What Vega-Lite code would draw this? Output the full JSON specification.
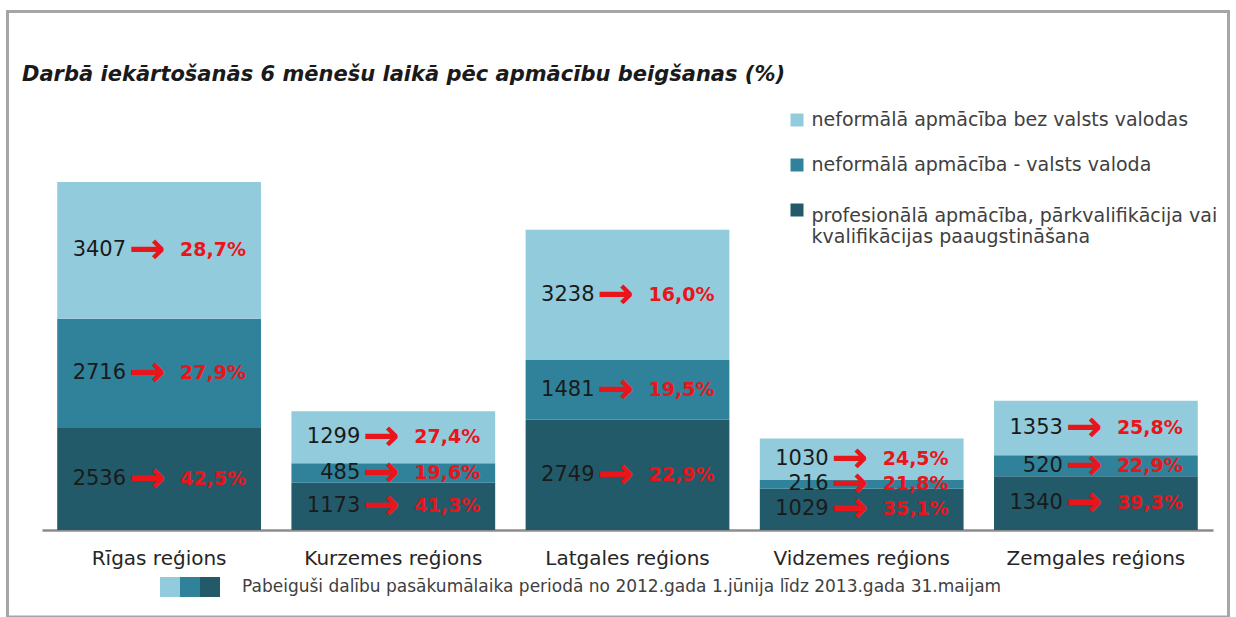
{
  "$schema": "https://vega.github.io/schema/vega-lite/v6.json",
  "width": 1221,
  "height": 605.5,
  "autosize": {"type": "none"},
  "padding": {"left": 7.5, "top": 11.5, "right": 7.5, "bottom": 0},
  "background": "white",
  "config": {
    "view": {"stroke": "#a6a6a6", "strokeWidth": 3},
    "locale": {"number": {"decimal": ",", "thousands": " ", "grouping": [3], "currency": ["", " €"]}}
  },
  "title": {
    "text": "Darbā iekārtošanās 6 mēnešu laikā pēc apmācību beigšanas (%)",
    "anchor": "start",
    "frame": "group",
    "offset": 0,
    "baseline": "alphabetic",
    "dx": 14.5,
    "dy": 90,
    "font": "DejaVu Sans",
    "fontSize": 21,
    "fontWeight": "bold",
    "fontStyle": "italic",
    "color": "#1a1a1a"
  },
  "layer": [
    {
      "data": {
        "values": [
          {"region": "Rīgas reģions", "series": "profesionālā apmācība, pārkvalifikācija vai kvalifikācijas paaugstināšana", "ord": 1, "count": 2536, "pct": 0.425},
          {"region": "Rīgas reģions", "series": "neformālā apmācība - valsts valoda", "ord": 2, "count": 2716, "pct": 0.279},
          {"region": "Rīgas reģions", "series": "neformālā apmācība bez valsts valodas", "ord": 3, "count": 3407, "pct": 0.287},
          {"region": "Kurzemes reģions", "series": "profesionālā apmācība, pārkvalifikācija vai kvalifikācijas paaugstināšana", "ord": 1, "count": 1173, "pct": 0.413},
          {"region": "Kurzemes reģions", "series": "neformālā apmācība - valsts valoda", "ord": 2, "count": 485, "pct": 0.196},
          {"region": "Kurzemes reģions", "series": "neformālā apmācība bez valsts valodas", "ord": 3, "count": 1299, "pct": 0.274},
          {"region": "Latgales reģions", "series": "profesionālā apmācība, pārkvalifikācija vai kvalifikācijas paaugstināšana", "ord": 1, "count": 2749, "pct": 0.229},
          {"region": "Latgales reģions", "series": "neformālā apmācība - valsts valoda", "ord": 2, "count": 1481, "pct": 0.195},
          {"region": "Latgales reģions", "series": "neformālā apmācība bez valsts valodas", "ord": 3, "count": 3238, "pct": 0.160},
          {"region": "Vidzemes reģions", "series": "profesionālā apmācība, pārkvalifikācija vai kvalifikācijas paaugstināšana", "ord": 1, "count": 1029, "pct": 0.351},
          {"region": "Vidzemes reģions", "series": "neformālā apmācība - valsts valoda", "ord": 2, "count": 216, "pct": 0.218},
          {"region": "Vidzemes reģions", "series": "neformālā apmācība bez valsts valodas", "ord": 3, "count": 1030, "pct": 0.245},
          {"region": "Zemgales reģions", "series": "profesionālā apmācība, pārkvalifikācija vai kvalifikācijas paaugstināšana", "ord": 1, "count": 1340, "pct": 0.393},
          {"region": "Zemgales reģions", "series": "neformālā apmācība - valsts valoda", "ord": 2, "count": 520, "pct": 0.229},
          {"region": "Zemgales reģions", "series": "neformālā apmācība bez valsts valodas", "ord": 3, "count": 1353, "pct": 0.258}
        ]
      },
      "transform": [
        {"stack": "count", "groupby": ["region"], "sort": [{"field": "ord", "order": "ascending"}], "as": ["y0", "y1"]},
        {"calculate": "(datum.y0 + datum.y1) / 2", "as": "ymid"}
      ],
      "encoding": {
        "x": {
          "field": "region",
          "type": "nominal",
          "sort": ["Rīgas reģions", "Kurzemes reģions", "Latgales reģions", "Vidzemes reģions", "Zemgales reģions"],
          "scale": {"range": [34.5, 1205.5], "paddingInner": 0.13, "paddingOuter": 0.065},
          "axis": {
            "title": null,
            "orient": "bottom",
            "offset": -87,
            "labelAngle": 0,
            "ticks": false,
            "grid": false,
            "domainColor": "#8c8c8c",
            "domainWidth": 2.5,
            "labelPadding": 18,
            "labelFont": "DejaVu Sans",
            "labelFontSize": 20,
            "labelColor": "#262626",
            "labelLimit": 300
          }
        }
      },
      "layer": [
        {
          "mark": {"type": "bar"},
          "encoding": {
            "y": {"field": "y0", "type": "quantitative", "scale": {"domain": [0, 9950], "range": [518.5, 118.5], "nice": false, "zero": true}, "axis": null},
            "y2": {"field": "y1"},
            "color": {
              "field": "series",
              "type": "nominal",
              "scale": {
                "domain": ["neformālā apmācība bez valsts valodas", "neformālā apmācība - valsts valoda", "profesionālā apmācība, pārkvalifikācija vai kvalifikācijas paaugstināšana"],
                "range": ["#92cbdc", "#2f8299", "#225a6a"]
              },
              "legend": {
                "orient": "none",
                "legendX": 780,
                "legendY": 99,
                "title": null,
                "direction": "vertical",
                "padding": 0,
                "symbolType": "square",
                "symbolSize": 169,
                "symbolStrokeWidth": 0,
                "labelFont": "DejaVu Sans",
                "labelFontSize": 19,
                "labelColor": "#404040",
                "labelOffset": 5,
                "labelLimit": 600,
                "rowPadding": 25,
                "labelExpr": "datum.label == 'profesionālā apmācība, pārkvalifikācija vai kvalifikācijas paaugstināšana' ? ['profesionālā apmācība, pārkvalifikācija vai', 'kvalifikācijas paaugstināšana'] : datum.label",
                "encode": {
                  "labels": {
                    "update": {
                      "dy": {"signal": "datum.value == 'profesionālā apmācība, pārkvalifikācija vai kvalifikācijas paaugstināšana' ? 5.5 : 0"}
                    }
                  }
                }
              }
            }
          }
        },
        {
          "mark": {"type": "text", "align": "right", "baseline": "middle", "dx": -33, "font": "DejaVu Sans", "fontSize": 21, "fill": "#1a1a1a"},
          "encoding": {
            "y": {"field": "ymid", "type": "quantitative"},
            "text": {"field": "count", "type": "quantitative", "format": "d"}
          }
        },
        {
          "mark": {"type": "text", "align": "center", "baseline": "middle", "dx": -12, "font": "DejaVu Sans", "fontSize": 44, "fontWeight": "bold", "fill": "#e8151b", "text": "→"},
          "encoding": {
            "y": {"field": "ymid", "type": "quantitative"}
          }
        },
        {
          "mark": {"type": "text", "align": "left", "baseline": "middle", "dx": 21, "font": "DejaVu Sans", "fontSize": 19, "fontWeight": "bold", "fill": "#e8151b"},
          "encoding": {
            "y": {"field": "ymid", "type": "quantitative"},
            "text": {"field": "pct", "type": "quantitative", "format": ".1%"}
          }
        }
      ]
    },
    {
      "data": {"values": [{"k": "a"}, {"k": "b"}, {"k": "c"}]},
      "mark": {"type": "text"},
      "encoding": {
        "text": {"value": ""},
        "color": {
          "field": "k",
          "type": "nominal",
          "scale": {"domain": ["a", "b", "c"], "range": ["#92cbdc", "#2f8299", "#225a6a"]},
          "legend": {
            "orient": "none",
            "legendX": 152.5,
            "legendY": 565.5,
            "direction": "horizontal",
            "columns": 3,
            "padding": 0,
            "title": "Pabeiguši dalību pasākumālaika periodā no 2012.gada 1.jūnija līdz 2013.gada 31.maijam",
            "titleOrient": "right",
            "titleFont": "DejaVu Sans",
            "titleFontSize": 17,
            "titleFontWeight": "normal",
            "titleColor": "#404040",
            "titlePadding": 22,
            "titleLimit": 1000,
            "titleBaseline": "middle",
            "labelExpr": "''",
            "labelOffset": 0,
            "labelFontSize": 1,
            "columnPadding": 0,
            "symbolType": "square",
            "symbolSize": 400,
            "symbolStrokeWidth": 0
          }
        }
      }
    }
  ],
  "resolve": {"scale": {"color": "independent"}, "legend": {"color": "independent"}}
}
